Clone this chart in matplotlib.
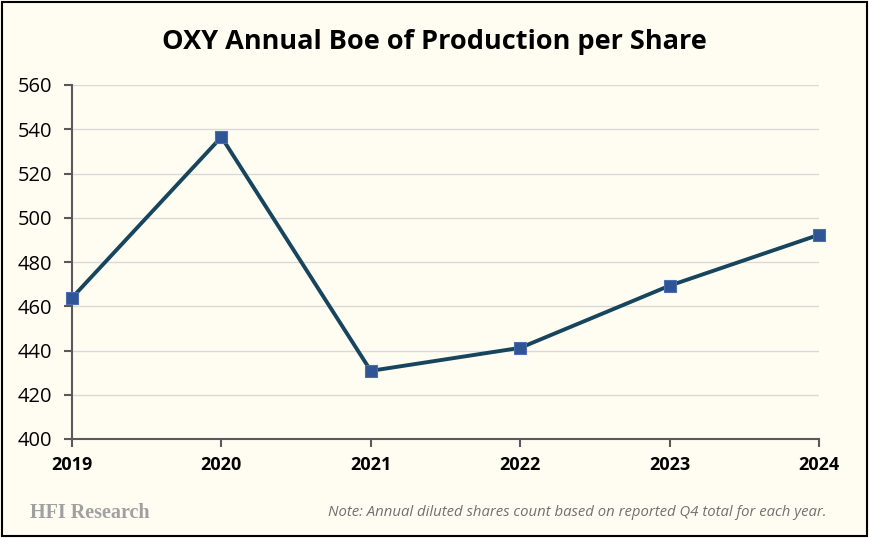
import matplotlib.pyplot as plt
from matplotlib.patches import Rectangle

years = ["2019", "2020", "2021", "2022", "2023", "2024"]
boe_per_share = [463.8, 536.5, 430.8, 441.2, 469.3, 492.3]
y_ticks = [400, 420, 440, 460, 480, 500, 520, 540, 560]

bg = "#FFFDF2"
fig = plt.figure(figsize=(8.69, 5.38), dpi=100, facecolor=bg)
ax = fig.add_axes([72 / 869, 1 - 439 / 538, (819 - 72) / 869, (439 - 85) / 538])
ax.set_facecolor(bg)

x = range(len(years))
ax.plot(x, boe_per_share, color="#17455E", linewidth=2.8, zorder=3, clip_on=False,
        marker="s", markersize=8, markerfacecolor="#2F5597",
        markeredgecolor="#4A6FAE", markeredgewidth=0.8)

ax.set_xlim(0, len(years) - 1)
ax.set_ylim(400, 560)
ax.set_yticks(y_ticks)
ax.set_xticks(list(x))
ax.set_xticklabels(years, fontweight="bold")
ax.grid(axis="y", color="#D9D9D9", linewidth=1)
ax.set_axisbelow(True)
for side in ["top", "right"]:
    ax.spines[side].set_visible(False)
for side in ["left", "bottom"]:
    ax.spines[side].set_color("#595959")
    ax.spines[side].set_linewidth(1.5)
ax.tick_params(axis="both", colors="#595959", width=1.5, length=6,
               labelcolor="black", pad=6)
ax.tick_params(axis="x", labelsize=13)
ax.tick_params(axis="y", labelsize=14.5, pad=8)
for lab in ax.get_xticklabels() + ax.get_yticklabels():
    lab.set_family("Open Sans")

fig.text(0.5, 1 - 42 / 538, "OXY Annual Boe of Production per Share", ha="center",
         va="center", fontsize=19.5, fontweight="bold", family="Open Sans")
fig.text(30 / 869, 1 - 513 / 538, "HFI Research", ha="left", va="center",
         fontsize=14.5, fontweight="bold", family="Liberation Serif", color="#A0A0A0")
fig.text(826 / 869, 1 - 513 / 538,
         "Note: Annual diluted shares count based on reported Q4 total for each year.",
         ha="right", va="center", fontsize=10.7, style="italic", family="Open Sans",
         color="#707070")

fig.patches.append(Rectangle((0.002, 0.003), 0.996, 0.994, transform=fig.transFigure,
                             fill=False, edgecolor="black", linewidth=1.5))

fig.savefig("out.png", dpi=100, facecolor=bg)
